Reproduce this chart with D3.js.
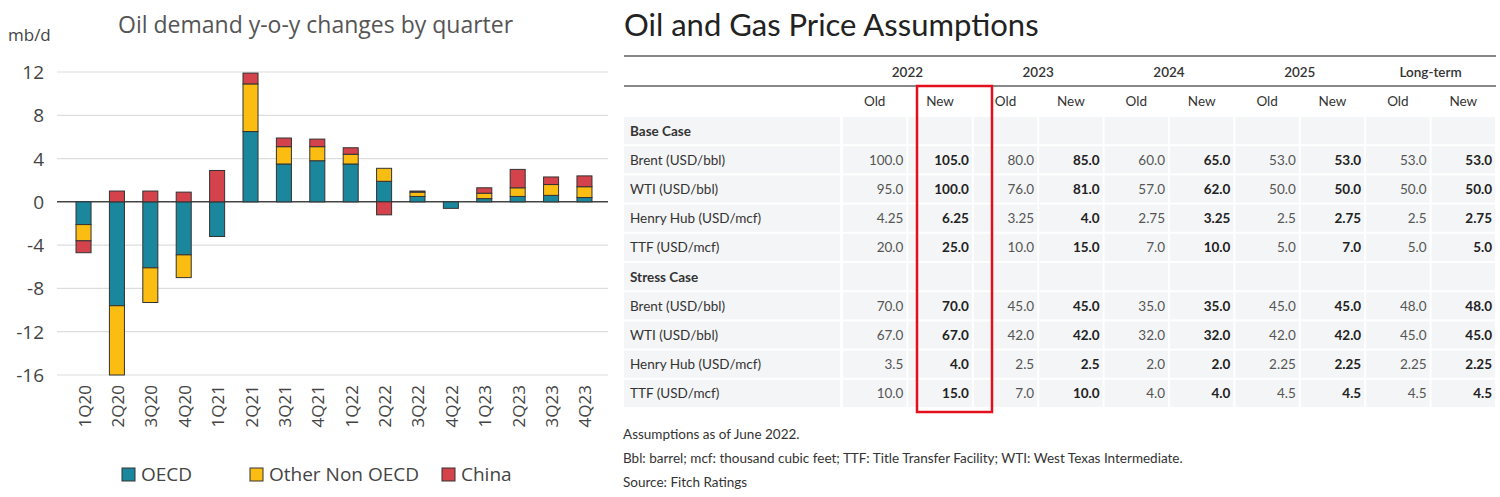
<!DOCTYPE html>
<html><head><meta charset="utf-8">
<script src="https://cdn.jsdelivr.net/npm/d3@7"></script>
<style>body{margin:0;background:#fff}</style></head>
<body><svg id="c" width="1500" height="497"></svg>
<script>
const quarters = ["1Q20","2Q20","3Q20","4Q20","1Q21","2Q21","3Q21","4Q21","1Q22","2Q22","3Q22","4Q22","1Q23","2Q23","3Q23","4Q23"];
const oecd  = [-2.1,-9.6,-6.1,-4.9,-3.2,6.5,3.5,3.8,3.5,1.9,0.5,-0.6,0.3,0.5,0.6,0.4];
const other = [-1.5,-6.4,-3.2,-2.1,0,4.4,1.6,1.3,0.9,1.2,0.4,0,0.5,0.8,1.0,1.0];
const china = [-1.1,1.0,1.0,0.9,2.9,1.0,0.8,0.7,0.6,-1.2,0.1,0,0.5,1.7,0.7,1.0];
const seriesNames = ["OECD","Other Non OECD","China"];
const colors = ["#1a879c","#fbbd12","#d4434b"];
const yTicks = [12,8,4,0,-4,-8,-12,-16];

const years = ["2022","2023","2024","2025","Long-term"];
const rowLabels = ["Brent (USD/bbl)","WTI (USD/bbl)","Henry Hub (USD/mcf)","TTF (USD/mcf)"];
const baseCase = [
  ["100.0","105.0","80.0","85.0","60.0","65.0","53.0","53.0","53.0","53.0"],
  ["95.0","100.0","76.0","81.0","57.0","62.0","50.0","50.0","50.0","50.0"],
  ["4.25","6.25","3.25","4.0","2.75","3.25","2.5","2.75","2.5","2.75"],
  ["20.0","25.0","10.0","15.0","7.0","10.0","5.0","7.0","5.0","5.0"]];
const stressCase = [
  ["70.0","70.0","45.0","45.0","35.0","35.0","45.0","45.0","48.0","48.0"],
  ["67.0","67.0","42.0","42.0","32.0","32.0","42.0","42.0","45.0","45.0"],
  ["3.5","4.0","2.5","2.5","2.0","2.0","2.25","2.25","2.25","2.25"],
  ["10.0","15.0","7.0","10.0","4.0","4.0","4.5","4.5","4.5","4.5"]];
const notes = ["Assumptions as of June 2022.","Bbl: barrel; mcf: thousand cubic feet; TTF: Title Transfer Facility; WTI: West Texas Intermediate.","Source: Fitch Ratings"];

const svg = d3.select("#c");

// ---- bar chart
const cf = "'Open Sans', sans-serif";
const x = d3.scaleBand().domain(quarters).range([66,602]).paddingInner(0.55).paddingOuter(0.3);
const y = d3.scaleLinear().domain([-16,12]).range([375,72]);
svg.append("text").attr("x",118).attr("y",33).attr("font-family",cf).attr("font-size",23).attr("fill","#555").text("Oil demand y-o-y changes by quarter");
svg.append("text").attr("x",8).attr("y",41).attr("font-family",cf).attr("font-size",17).attr("fill","#444").text("mb/d");
const g = svg.append("g");
g.selectAll(".grid").data(yTicks).enter().append("line")
  .attr("x1",57).attr("x2",608).attr("y1",d=>y(d)).attr("y2",d=>y(d))
  .attr("stroke",d=>d===0?"#444":"#ddd").attr("stroke-width",d=>d===0?1.5:1.2);
g.selectAll(".yl").data(yTicks).enter().append("text")
  .attr("x",44).attr("y",d=>y(d)+7).attr("text-anchor","end")
  .attr("font-family",cf).attr("font-size",19).attr("fill","#444").text(d=>d);

const all = [oecd,other,china];
const segs = [];
quarters.forEach((q,i)=>{
  let pos=0,neg=0;
  all.forEach((s,k)=>{
    const v=s[i]; if(!v) return;
    let y0,y1;
    if(v>0){y0=pos;y1=pos+v;pos=y1;} else {y0=neg;y1=neg+v;neg=y1;}
    segs.push({q,k,y0,y1});
  });
});
g.selectAll(".bar").data(segs).enter().append("rect")
  .attr("x",d=>x(d.q)).attr("width",x.bandwidth())
  .attr("y",d=>y(Math.max(d.y0,d.y1))).attr("height",d=>Math.abs(y(d.y0)-y(d.y1)))
  .attr("fill",d=>colors[d.k]).attr("stroke","#333").attr("stroke-width",1);
g.selectAll(".xl").data(quarters).enter().append("text")
  .attr("transform",d=>`translate(${x(d)+x.bandwidth()/2+7},385) rotate(-90)`)
  .attr("text-anchor","end").attr("font-family",cf).attr("font-size",17).attr("fill","#444").text(d=>d);
const leg = g.selectAll(".lg").data(seriesNames).enter().append("g")
  .attr("transform",(d,i)=>`translate(${[122,250,442][i]},468)`);
leg.append("rect").attr("width",13).attr("height",13).attr("fill",(d,i)=>colors[i]).attr("stroke","#333");
leg.append("text").attr("x",19).attr("y",13).attr("font-family",cf).attr("font-size",19).attr("fill","#444").text(d=>d);

// ---- table
const tf = "Lato, sans-serif";
svg.append("text").attr("x",624).attr("y",36).attr("font-family",tf).attr("font-size",31).attr("fill","#222").text("Oil and Gas Price Assumptions");
const colX = d3.scaleBand().domain(d3.range(10)).range([842,1496]);
const rowH = 29.2;
const rows = [{t:"Base Case",h:true}].concat(rowLabels.map((l,i)=>({t:l,v:baseCase[i]})),
  [{t:"Stress Case",h:true}], rowLabels.map((l,i)=>({t:l,v:stressCase[i]})));
const tableTop = 116;
const tb = svg.append("g");
rows.forEach((r,ri)=>{
  const yy=tableTop+ri*rowH;
  tb.append("rect").attr("x",624).attr("y",yy+1).attr("width",216).attr("height",rowH-2).attr("fill","#f4f5f6");
  d3.range(10).forEach(c=>tb.append("rect").attr("x",colX(c)+1).attr("y",yy+1).attr("width",colX.bandwidth()-2).attr("height",rowH-2).attr("fill","#f4f5f6"));
});
tb.append("line").attr("x1",624).attr("x2",1496).attr("y1",56).attr("y2",56).attr("stroke","#888").attr("stroke-width",2);
tb.append("line").attr("x1",624).attr("x2",1496).attr("y1",86).attr("y2",86).attr("stroke","#888").attr("stroke-width",2);
years.forEach((yr,i)=>{
  tb.append("text").attr("x",colX(2*i)+colX.bandwidth()).attr("y",77).attr("text-anchor","middle")
    .attr("font-family",tf).attr("font-size",13.5).attr("font-weight",600).attr("fill","#333").text(yr);
});
d3.range(10).forEach(c=>{
  tb.append("text").attr("x",colX(c)+colX.bandwidth()/2).attr("y",106).attr("text-anchor","middle")
    .attr("font-family",tf).attr("font-size",13.5).attr("fill","#333").text(c%2?"New":"Old");
});
rows.forEach((r,ri)=>{
  const yy=tableTop+ri*rowH+rowH/2+5;
  tb.append("text").attr("x",630).attr("y",yy).attr("font-family",tf).attr("font-size",13.5)
    .attr("font-weight",r.h?700:400).attr("fill","#333").text(r.t);
  if(r.v) r.v.forEach((v,c)=>tb.append("text").attr("x",colX(c)+colX.bandwidth()-4).attr("y",yy)
    .attr("text-anchor","end").attr("font-family",tf).attr("font-size",13.5)
    .attr("font-weight",c%2?700:400).attr("fill",c%2?"#222":"#555").text(v));
});
tb.append("rect").attr("x",917).attr("y",86).attr("width",75).attr("height",326)
  .attr("fill","none").attr("stroke","#e3101c").attr("stroke-width",2.5);
notes.forEach((n,i)=>svg.append("text").attr("x",623).attr("y",439+i*24).attr("font-family",tf)
  .attr("font-size",13.5).attr("fill","#333").text(n));
</script></body></html>
